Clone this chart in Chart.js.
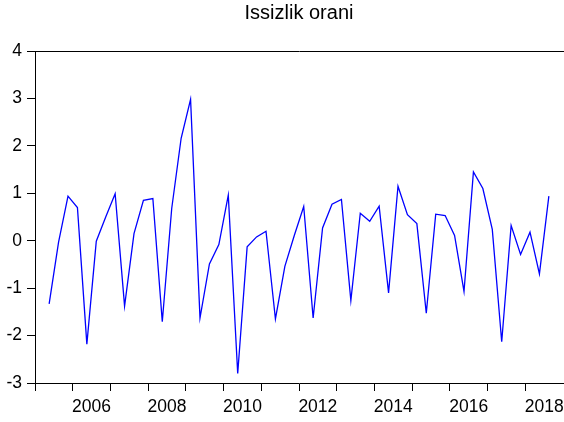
<!DOCTYPE html>
<html>
<head>
<meta charset="utf-8">
<script src="https://cdn.jsdelivr.net/npm/chart.js@4/dist/chart.umd.min.js"></script>
<style>
  html, body { margin: 0; padding: 0; background: #fff; }
  #issizlik-chart { display: block; }
</style>
</head>
<body>
<canvas id="issizlik-chart" width="564" height="422"></canvas>
<script>
const quarters = [
    '2005Q2', '2005Q3', '2005Q4',
    '2006Q1', '2006Q2', '2006Q3', '2006Q4',
    '2007Q1', '2007Q2', '2007Q3', '2007Q4',
    '2008Q1', '2008Q2', '2008Q3', '2008Q4',
    '2009Q1', '2009Q2', '2009Q3', '2009Q4',
    '2010Q1', '2010Q2', '2010Q3', '2010Q4',
    '2011Q1', '2011Q2', '2011Q3', '2011Q4',
    '2012Q1', '2012Q2', '2012Q3', '2012Q4',
    '2013Q1', '2013Q2', '2013Q3', '2013Q4',
    '2014Q1', '2014Q2', '2014Q3', '2014Q4',
    '2015Q1', '2015Q2', '2015Q3', '2015Q4',
    '2016Q1', '2016Q2', '2016Q3', '2016Q4',
    '2017Q1', '2017Q2', '2017Q3', '2017Q4',
    '2018Q1', '2018Q2', '2018Q3'
];

const issizlikOrani = [
    -1.33, -0.03, 0.94,
    0.70, -2.18, -0.01, 0.50,
    0.99, -1.38, 0.15, 0.85,
    0.89, -1.71, 0.68, 2.16,
    2.98, -1.63, -0.49, -0.08,
    0.96, -2.80, -0.13, 0.08,
    0.20, -1.65, -0.54, 0.11,
    0.72, -1.63, 0.27, 0.77,
    0.87, -1.26, 0.58, 0.41,
    0.73, -1.10, 1.15, 0.55,
    0.36, -1.53, 0.56, 0.53,
    0.11, -1.07, 1.45, 1.10,
    0.24, -2.13, 0.32, -0.29,
    0.18, -0.70, 0.94
];

const yearLabels = ['2006', '2008', '2010', '2012', '2014', '2016', '2018'];
const yTicks = [-3, -2, -1, 0, 1, 2, 3, 4];

const FONT = 'Liberation Sans, Arial, sans-serif';

// quarter -> position in the middle of that quarter
function quarterToX(q) {
    const year = parseInt(q.slice(0, 4), 10);
    const n = parseInt(q.slice(5), 10);
    return year + (n - 0.5) / 4;
}

const points = quarters.map((q, i) => ({ x: quarterToX(q), y: issizlikOrani[i] }));

let chart = null;

function createChart() {
    const ctx = document.getElementById('issizlik-chart').getContext('2d');

    if (chart) {
        chart.destroy();
    }

    chart = new Chart(ctx, {
        type: 'line',
        data: {
            datasets: [{
                label: 'Issizlik orani',
                data: points,
                borderColor: '#0000ff',
                borderWidth: 1.3,
                pointRadius: 0,
                tension: 0,
                fill: false
            }]
        },
        options: {
            responsive: false,
            animation: false,
            layout: {
                autoPadding: false,
                padding: { top: 1, right: 1, bottom: 0, left: 0 }
            },
            plugins: {
                legend: { display: false },
                tooltip: { enabled: false },
                title: {
                    display: true,
                    fullSize: false,
                    text: 'Issizlik orani',
                    color: '#000',
                    font: { family: FONT, size: 20, weight: 'normal', lineHeight: 1.2 },
                    padding: { top: 0, bottom: 26 }
                }
            },
            scales: {
                x: {
                    type: 'linear',
                    min: 2005,
                    max: 2019,
                    afterFit: function(scale) {
                        scale.height = 39;
                        // labels sit between ticks, no need for edge padding
                        scale.paddingLeft = 0;
                        scale.paddingRight = 0;
                    },
                    ticks: {
                        stepSize: 0.5,
                        autoSkip: false,
                        maxRotation: 0,
                        padding: 6,
                        color: '#000',
                        font: { family: FONT, size: 17.5 },
                        callback: function(value) {
                            const y = String(value - 0.5);
                            return yearLabels.includes(y) ? y : '';
                        }
                    },
                    grid: {
                        drawOnChartArea: false,
                        drawTicks: true,
                        tickLength: 8,
                        color: function(c) {
                            const v = c.tick ? c.tick.value : null;
                            return v !== null && Number.isInteger(v) && v < 2019 ? '#000' : 'rgba(0,0,0,0)';
                        }
                    },
                    border: { display: true, color: '#000', width: 1 }
                },
                x2: {
                    type: 'linear',
                    position: 'top',
                    min: 2005,
                    max: 2019,
                    afterFit: function(scale) { scale.height = 0; },
                    ticks: { display: false },
                    grid: { display: false, drawTicks: false },
                    border: { display: true, color: '#000', width: 1 }
                },
                y: {
                    min: -3,
                    max: 4,
                    afterFit: function(scale) { scale.width = 35; },
                    afterBuildTicks: function(scale) {
                        scale.ticks = yTicks.map(v => ({ value: v }));
                    },
                    ticks: {
                        padding: 5,
                        color: '#000',
                        font: { family: FONT, size: 17.5 }
                    },
                    grid: {
                        drawOnChartArea: false,
                        drawTicks: true,
                        tickLength: 8,
                        color: '#000'
                    },
                    border: { display: true, color: '#000', width: 1 }
                }
            }
        }
    });
}

document.addEventListener('DOMContentLoaded', function() {
    createChart();
});
</script>
</body>
</html>
